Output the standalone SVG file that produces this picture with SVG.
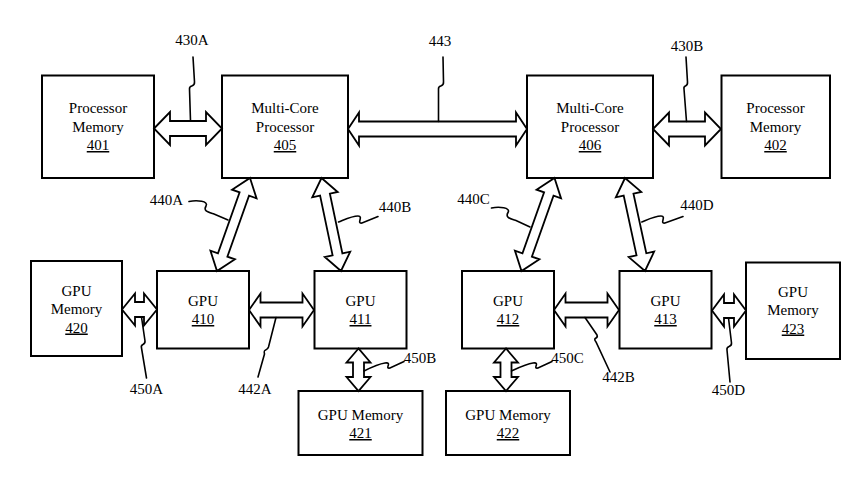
<svg xmlns="http://www.w3.org/2000/svg" width="864" height="487" viewBox="0 0 864 487">
<style>
.box{fill:#fff;stroke:#000;stroke-width:2}
.t{font-family:"Liberation Serif","Times New Roman",serif;font-size:15px;fill:#000;text-anchor:middle}
.u{text-decoration:underline}
.arr{fill:#fff;stroke:#000;stroke-width:1.8;stroke-linejoin:miter}
.lead{fill:none;stroke:#000;stroke-width:1.6;stroke-linecap:round}
.lbl{font-family:"Liberation Serif","Times New Roman",serif;font-size:15px;fill:#000;text-anchor:middle}
</style>
<rect width="864" height="487" fill="#fff"/>
<g id="n401"><rect class="box" x="42" y="75.5" width="112" height="102.5"/><text class="t" x="98" y="113">Processor</text><text class="t" x="98" y="131.5">Memory</text><text class="t u" x="98" y="150">401</text></g>
<g id="n405"><rect class="box" x="222" y="75.5" width="126" height="102.5"/><text class="t" x="285" y="113">Multi-Core</text><text class="t" x="285" y="131.5">Processor</text><text class="t u" x="285" y="150">405</text></g>
<g id="n406"><rect class="box" x="527" y="75.5" width="126" height="102.5"/><text class="t" x="590" y="113">Multi-Core</text><text class="t" x="590" y="131.5">Processor</text><text class="t u" x="590" y="150">406</text></g>
<g id="n402"><rect class="box" x="721.5" y="75.5" width="108.5" height="102.5"/><text class="t" x="775.5" y="113">Processor</text><text class="t" x="775.5" y="131.5">Memory</text><text class="t u" x="775.5" y="150">402</text></g>
<g id="n420"><rect class="box" x="31" y="261" width="91" height="95"/><text class="t" x="76.5" y="296">GPU</text><text class="t" x="76.5" y="314">Memory</text><text class="t u" x="76.5" y="332.5">420</text></g>
<g id="n410"><rect class="box" x="157" y="271" width="92" height="77.5"/><text class="t" x="203" y="306">GPU</text><text class="t u" x="203" y="324">410</text></g>
<g id="n411"><rect class="box" x="314.5" y="271" width="92" height="77.5"/><text class="t" x="360.5" y="306">GPU</text><text class="t u" x="360.5" y="324">411</text></g>
<g id="n412"><rect class="box" x="462" y="271" width="92" height="77.5"/><text class="t" x="508" y="306">GPU</text><text class="t u" x="508" y="324">412</text></g>
<g id="n413"><rect class="box" x="619.5" y="271" width="92" height="77.5"/><text class="t" x="665.5" y="306">GPU</text><text class="t u" x="665.5" y="324">413</text></g>
<g id="n423"><rect class="box" x="746" y="262.5" width="94" height="96.5"/><text class="t" x="793" y="297">GPU</text><text class="t" x="793" y="315">Memory</text><text class="t u" x="793" y="333.5">423</text></g>
<g id="n421"><rect class="box" x="298.5" y="391" width="124" height="64"/><text class="t" x="360.5" y="420">GPU Memory</text><text class="t u" x="360.5" y="438">421</text></g>
<g id="n422"><rect class="box" x="446" y="391" width="124" height="64"/><text class="t" x="508" y="420">GPU Memory</text><text class="t u" x="508" y="438">422</text></g>
<g id="connectors">
<polygon id="c430A" class="arr" points="154,128.5 170,112 170,121 206,121 206,112 222,128.5 206,145 206,136 170,136 170,145"/>
<polygon id="c443" class="arr" points="348,129 359,112.5 359,121.5 516,121.5 516,112.5 527,129 516,145.5 516,136.5 359,136.5 359,145.5"/>
<polygon id="c430B" class="arr" points="653,129 669,112.5 669,121.5 705,121.5 705,112.5 721,129 705,145.5 705,136.5 669,136.5 669,145.5"/>
<polygon id="c450A" class="arr" points="122,309.5 135,293.5 135,302 144,302 144,293.5 157,309.5 144,325.5 144,317 135,317 135,325.5"/>
<polygon id="c442A" class="arr" points="249,310 260.5,293.5 260.5,302.5 302.5,302.5 302.5,293.5 314,310 302.5,326.5 302.5,317.5 260.5,317.5 260.5,326.5"/>
<polygon id="c442B" class="arr" points="554,310 565.5,293.5 565.5,302.5 607.5,302.5 607.5,293.5 619,310 607.5,326.5 607.5,317.5 565.5,317.5 565.5,326.5"/>
<polygon id="c450D" class="arr" points="712,310.5 724,294.5 724,303 734,303 734,294.5 746,310.5 734,326.5 734,318 724,318 724,326.5"/>
<polygon id="c450B" class="arr" points="358.5,348.5 346.5,362.5 353,362.5 353,377 346.5,377 358.5,391 370.5,377 364,377 364,362.5 370.5,362.5"/>
<polygon id="c450C" class="arr" points="506,348.5 494,362.5 500.5,362.5 500.5,377 494,377 506,391 518,377 511.5,377 511.5,362.5 518,362.5"/>
<polygon id="c440A" class="arr" transform="translate(250,178) rotate(109.54)" points="0,0 17,-13 17,-5 81.7,-5 81.7,-13 98.7,0 81.7,13 81.7,5 17,5 17,13"/>
<polygon id="c440B" class="arr" transform="translate(321.5,178) rotate(78.16)" points="0,0 17,-13 17,-5 78,-5 78,-13 95,0 78,13 78,5 17,5 17,13"/>
<polygon id="c440C" class="arr" transform="translate(554.5,178) rotate(109.54)" points="0,0 17,-13 17,-5 81.7,-5 81.7,-13 98.7,0 81.7,13 81.7,5 17,5 17,13"/>
<polygon id="c440D" class="arr" transform="translate(625,178) rotate(77.86)" points="0,0 17,-13 17,-5 78.1,-5 78.1,-13 95.1,0 78.1,13 78.1,5 17,5 17,13"/>
<path class="lead" d="M193,57 L194.5,82 C195,88 189,84 189.5,89 L190.5,121"/>
<path class="lead" d="M443,57 L443.5,82 C444,88 438,84 438.5,89 L438.5,121.5"/>
<path class="lead" d="M686,57 L687.5,82 C688,88 683,84 684,89 L686.5,121.5"/>
<path class="lead" d="M189,201.5 C197,200 209,201 206,206 C203,211 208,212 214,214 L228,220"/>
<path class="lead" d="M338.5,222 C346,219 352,216 358,216 C364,216 356,224 362,223 L378,216.5"/>
<path class="lead" d="M491.5,208 C499,206.5 511,207.5 508,212.5 C505,217.5 510,218.5 516,220.5 L530,227"/>
<path class="lead" d="M641.8,222 C649,219 655,216 661,216 C667,216 659,224 665,223 L683,216.5"/>
<path class="lead" d="M141.5,317 L145,341 C145.5,346 140,343 141.5,348 L146.5,378"/>
<path class="lead" d="M276,317.5 L268.5,347 C267,352 263,348 264.5,354 L258,377"/>
<path class="lead" d="M585,317.5 L597,335 C599,339 592,337 596,342 L610,372"/>
<path class="lead" d="M728.5,318 L731.5,343 C732,348 726,345 727,350 L730,382"/>
<path class="lead" d="M364,371 C370,368 378,364 385,363 C393,362 384,369 390,368 L404,361.5"/>
<path class="lead" d="M511.5,371 C518,368 526,364 533,363 C541,362 532,369 538,368 L552,361.5"/>
</g>
<g id="labels">
<text class="lbl" x="192" y="45">430A</text>
<text class="lbl" x="440" y="46">443</text>
<text class="lbl" x="687" y="50.5">430B</text>
<text class="lbl" x="166.5" y="205">440A</text>
<text class="lbl" x="395" y="212">440B</text>
<text class="lbl" x="473.5" y="203.5">440C</text>
<text class="lbl" x="697" y="210">440D</text>
<text class="lbl" x="146.5" y="394">450A</text>
<text class="lbl" x="255" y="394">442A</text>
<text class="lbl" x="420" y="363">450B</text>
<text class="lbl" x="567.5" y="363">450C</text>
<text class="lbl" x="618.5" y="382">442B</text>
<text class="lbl" x="728.5" y="395">450D</text>
</g>
</svg>
